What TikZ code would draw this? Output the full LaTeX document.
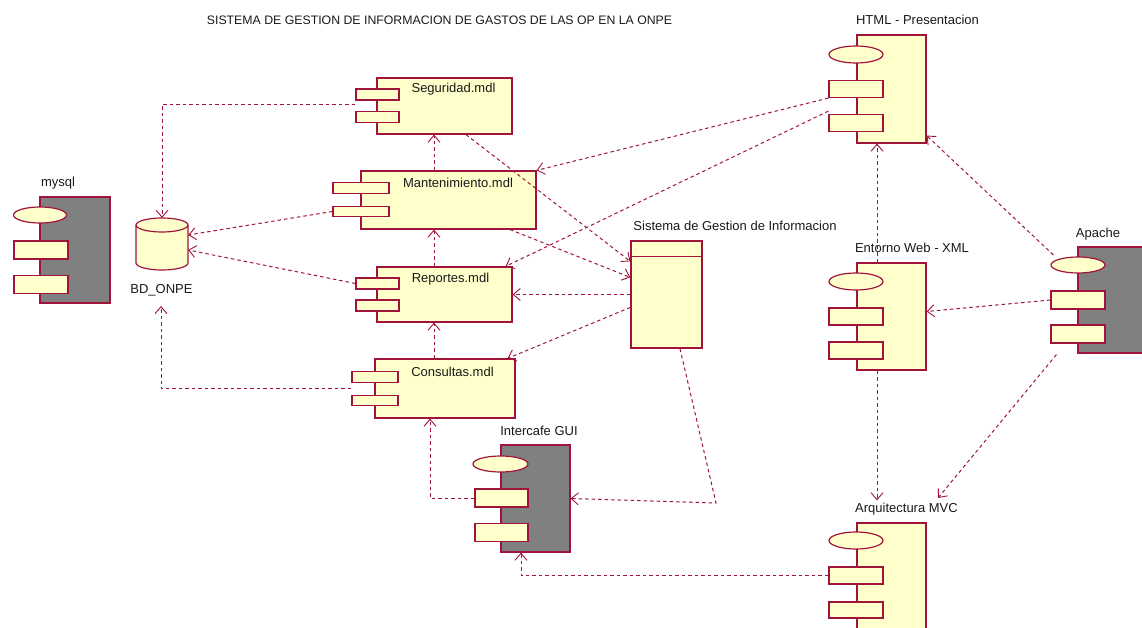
\documentclass[tikz,border=0pt]{standalone}
\usepackage{fontspec}
\setmainfont{Liberation Sans}
\usetikzlibrary{arrows.meta,shapes.geometric}
\definecolor{dred}{RGB}{160,20,60}
\definecolor{yel}{RGB}{255,255,204}
\definecolor{gry}{RGB}{128,128,128}
\begin{document}
\begin{tikzpicture}[x=1pt,y=-1pt,
  box/.style={draw=dred, line width=1.2pt, fill=yel, inner sep=0pt, rectangle},
  gbox/.style={box, fill=gry},
  oval/.style={draw=dred, line width=1.2pt, fill=yel, ellipse, inner sep=0pt},
  lab/.style={font=\fontsize{13}{15}\selectfont, anchor=base, inner sep=0pt, text=black!90},
  dep/.style={draw=dred, line width=1pt, dash pattern=on 3.5pt off 3pt,
    -{Straight Barb[length=7pt,width=12pt,line width=0.9pt]}},
]
\fill[white] (0,0) rectangle (1142,628);
\useasboundingbox (0,0) rectangle (1142,628);

% title
\node[lab, font=\fontsize{12.3}{14}\selectfont] (title) at (439.5,25) {SISTEMA DE GESTION DE INFORMACION DE GASTOS DE LAS OP EN LA ONPE};

% mysql
\node[gbox, minimum width=70pt, minimum height=106pt] (mysql) at (75,250) {};
\node[oval, minimum width=53pt, minimum height=16pt] (myel) at (40,215) {};
\node[box, minimum width=54pt, minimum height=18pt] (myp1) at (41,250) {};
\node[box, minimum width=54pt, minimum height=18pt] (myp2) at (41,284.5) {};
\node[lab] (mylab) at (58,187) {mysql};

% BD_ONPE cylinder
\node[minimum width=52pt, minimum height=52pt, inner sep=0pt] (db) at (162,244) {};
\begin{scope}[shift={(162,244)}, y=1pt]
  \filldraw[draw=dred, fill=yel, line width=1.2pt] (-26,19) -- (-26,-19)
    arc[start angle=180, end angle=360, x radius=26, y radius=7] -- (26,19)
    arc[start angle=0, end angle=180, x radius=26, y radius=7] -- cycle;
  \draw[dred, line width=1.2pt] (26,19) arc[start angle=0, end angle=-180, x radius=26, y radius=7];
\end{scope}
\node[lab] (dblab) at (161.5,293) {BD\_ONPE};

% Seguridad
\node[box, minimum width=135pt, minimum height=56pt] (seg) at (444.5,106) {};
\node[box, minimum width=43pt, minimum height=11pt] (segp1) at (377.5,94.5) {};
\node[box, minimum width=43pt, minimum height=11pt] (segp2) at (377.5,117) {};
\node[lab] (seglab) at (453.5,93) {Seguridad.mdl};

% Mantenimiento
\node[box, minimum width=175pt, minimum height=58pt] (mant) at (448.5,200) {};
\node[box, minimum width=56pt, minimum height=10.5pt] (mantp1) at (361,188) {};
\node[box, minimum width=56pt, minimum height=10.5pt] (mantp2) at (361,211.5) {};
\node[lab] (mantlab) at (458,188) {Mantenimiento.mdl};

% Reportes
\node[box, minimum width=135pt, minimum height=55pt] (rep) at (444.5,294.5) {};
\node[box, minimum width=43pt, minimum height=11pt] (repp1) at (377.5,283.5) {};
\node[box, minimum width=43pt, minimum height=11pt] (repp2) at (377.5,305.5) {};
\node[lab] (replab) at (450.5,282) {Reportes.mdl};

% Consultas
\node[box, minimum width=140pt, minimum height=59pt] (cons) at (445,388.5) {};
\node[box, minimum width=46pt, minimum height=10.5pt] (consp1) at (375,377) {};
\node[box, minimum width=46pt, minimum height=10.5pt] (consp2) at (375,400.5) {};
\node[lab] (conslab) at (452.5,376) {Consultas.mdl};

% Intercafe GUI
\node[gbox, minimum width=69pt, minimum height=107pt] (icg) at (535.5,498.5) {};
\node[oval, minimum width=55pt, minimum height=16pt] (icgel) at (500.5,464) {};
\node[box, minimum width=53pt, minimum height=18pt] (icgp1) at (501.5,498) {};
\node[box, minimum width=53pt, minimum height=18pt] (icgp2) at (501.5,532.5) {};
\node[lab] (icglab) at (539,435) {Intercafe GUI};

% Sistema de Gestion de Informacion
\node[box, minimum width=71pt, minimum height=107pt] (sis) at (666.5,294.5) {};
\draw[dred, line width=1.2pt] ([yshift=-16pt]sis.north west) -- ([yshift=-16pt]sis.north east);
\node[lab] (sislab) at (735,231) {Sistema de Gestion de Informacion};

% HTML - Presentacion
\node[box, minimum width=69pt, minimum height=108pt] (html) at (891.5,89) {};
\node[oval, minimum width=54pt, minimum height=17pt] (htmlel) at (856,54.5) {};
\node[box, minimum width=54pt, minimum height=17pt] (htmlp1) at (856,89) {};
\node[box, minimum width=54pt, minimum height=17pt] (htmlp2) at (856,123) {};
\node[lab] (htmllab) at (917.5,25) {HTML - Presentacion};

% Entorno Web - XML
\node[box, minimum width=69pt, minimum height=107pt] (ent) at (891.5,316.5) {};
\node[oval, minimum width=54pt, minimum height=17pt] (entel) at (856,281.5) {};
\node[box, minimum width=54pt, minimum height=17pt] (entp1) at (856,316.5) {};
\node[box, minimum width=54pt, minimum height=17pt] (entp2) at (856,350.5) {};
\node[lab] (entlab) at (912,253) {Entorno Web - XML};

% Apache
\node[gbox, minimum width=72pt, minimum height=106pt] (ap) at (1114,300) {};
\node[oval, minimum width=54pt, minimum height=16pt] (apel) at (1078,265) {};
\node[box, minimum width=54pt, minimum height=18pt] (app1) at (1078,300) {};
\node[box, minimum width=54pt, minimum height=18pt] (app2) at (1078,334) {};
\node[lab] (aplab) at (1098,237) {Apache};

% Arquitectura MVC
\node[box, minimum width=69pt, minimum height=117pt] (arq) at (891.5,581.5) {};
\node[oval, minimum width=54pt, minimum height=17pt] (arqel) at (856,540.5) {};
\node[box, minimum width=54pt, minimum height=17pt] (arqp1) at (856,575.5) {};
\node[box, minimum width=54pt, minimum height=16pt] (arqp2) at (856,610) {};
\node[lab] (arqlab) at (906.5,512) {Arquitectura MVC};

% helper coordinates
\coordinate (lx) at (434,0);
\coordinate (lx2) at (430,0);
\coordinate (rx) at (877,0);
\coordinate (ix) at (521,0);
\coordinate (dbin) at (161,306);
\coordinate (sc) at (716,503);
\coordinate (arqin) at (938,498);

% connectors
\draw[dep] ([yshift=-4pt]segp1.south west) -| (db.north);
\draw[dep] (mantp2.west) -- ([yshift=9pt]db.east);
\draw[dep] (repp1.west) -- ([yshift=-6pt]db.east);
\draw[dep] ([yshift=-6pt]consp1.south west) -| (dbin);

\draw[dep] (mant.north -| lx) -- (seg.south -| lx);
\draw[dep] (rep.north -| lx) -- (mant.south -| lx);
\draw[dep] (cons.north -| lx) -- (rep.south -| lx);
\draw[dep] (icgp1.west) -| (cons.south -| lx2);

\draw[dep] ([xshift=21.5pt]seg.south) -- ([yshift=-21pt]sis.north west);
\draw[dep] ([xshift=61.5pt]mant.south) -- ([yshift=-37pt]sis.north west);
\draw[dep] (sis.west) -- (rep.east);
\draw[dep] ([yshift=-67pt]sis.north west) -- ([xshift=-8pt]cons.north east);
\draw[dep] ([xshift=13.5pt]sis.south) -- (sc) -- (icg.east);

\draw[dep] (htmlp1.south west) -- (mant.north east);
\draw[dep] ([yshift=-13pt]htmlp1.south west) -- ([xshift=-7pt]rep.north east);

\draw[dep] (ent.north -| rx) -- (html.south -| rx);
\draw[dep] (ent.south -| rx) -- ([yshift=2pt]arqlab.north -| rx);

\draw[dep] ([xshift=3pt,yshift=10pt]apel.west) -- ([yshift=8pt]html.south east);
\draw[dep] (app1.west) -- ([yshift=5pt]ent.east);
\draw[dep] ([xshift=6pt,yshift=-11pt]app2.south west) -- (arqin);

\draw[dep] (arqp1.west) -| (icg.south -| ix);
\end{tikzpicture}
\end{document}
